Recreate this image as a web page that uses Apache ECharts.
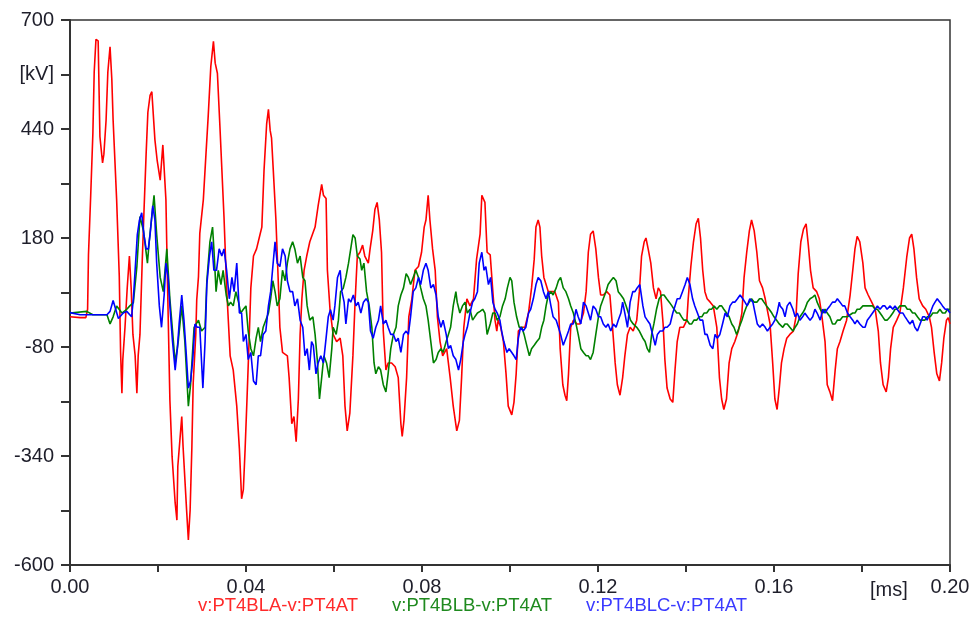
<!DOCTYPE html>
<html>
<head>
<meta charset="utf-8">
<script src="https://cdn.jsdelivr.net/npm/echarts@6.0.0/dist/echarts.min.js"></script>
<style>
html,body{margin:0;padding:0;background:#fff;}
#chart{width:974px;height:628px;}
</style>
</head>
<body>
<div id="chart"></div>
<script>
// Time in ms, voltage in kV
const seriesNames = ['v:PT4BLA-v:PT4AT', 'v:PT4BLB-v:PT4AT', 'v:PT4BLC-v:PT4AT'];
const seriesColors = ['#ff0000', '#008000', '#0000ff'];
const legendColors = ['#ff2a2a', '#1f8a1f', '#3a3aff'];

const phaseA = [[0,-8],[0.0023,-10],[0.0036,-10],[0.0040,10],[0.0042,140],[0.0047,280],[0.0052,430],[0.0055,576],[0.0059,654],[0.0064,650],[0.0068,422],[0.0074,359],[0.0077,380],[0.0082,461],[0.0086,576],[0.0091,636],[0.0095,560],[0.0098,461],[0.0106,271],[0.0112,88],[0.0115,-93],[0.0118,-190],[0.0120,-110],[0.0125,-33],[0.0130,60],[0.0135,137],[0.0139,61],[0.0143,-50],[0.0148,-100],[0.0152,-190],[0.0155,-100],[0.0159,-50],[0.0164,120],[0.0168,240],[0.0173,380],[0.0177,480],[0.0182,520],[0.0186,529],[0.0193,414],[0.0198,366],[0.0205,318],[0.0211,402],[0.0218,271],[0.0221,103],[0.0227,-206],[0.0232,-341],[0.0239,-452],[0.0243,-493],[0.0245,-365],[0.0254,-246],[0.0257,-318],[0.0265,-469],[0.0269,-540],[0.0273,-469],[0.0277,-318],[0.0280,-166],[0.0286,-47],[0.0288,32],[0.0292,88],[0.0295,191],[0.0303,271],[0.0309,380],[0.0314,469],[0.0320,589],[0.0326,649],[0.0330,597],[0.0335,573],[0.0341,440],[0.0350,230],[0.0356,60],[0.0364,-101],[0.0371,-135],[0.0379,-221],[0.0385,-323],[0.0390,-442],[0.0394,-420],[0.0398,-323],[0.0402,-212],[0.0407,-67],[0.0411,61],[0.0417,137],[0.0424,154],[0.0432,189],[0.0436,206],[0.0441,342],[0.0447,453],[0.0451,487],[0.0455,436],[0.0458,419],[0.0462,342],[0.0468,223],[0.0473,86],[0.0477,-33],[0.0483,-93],[0.0494,-101],[0.0498,-153],[0.0504,-263],[0.0509,-246],[0.0514,-306],[0.0519,-204],[0.0523,-50],[0.0527,35],[0.0532,103],[0.0538,137],[0.0545,171],[0.0557,206],[0.0564,257],[0.0572,308],[0.0576,282],[0.0582,274],[0.0585,103],[0.0591,9],[0.0598,-50],[0.0606,-67],[0.0614,-59],[0.0620,-101],[0.0625,-221],[0.0630,-280],[0.0636,-238],[0.0643,-100],[0.0648,30],[0.0653,137],[0.0659,146],[0.0665,163],[0.0670,137],[0.0678,120],[0.0682,154],[0.0688,197],[0.0693,248],[0.0698,265],[0.0703,223],[0.0708,146],[0.0712,-42],[0.0718,-135],[0.0723,-118],[0.0731,-118],[0.0739,-127],[0.0746,-153],[0.0752,-263],[0.0755,-293],[0.0759,-255],[0.0765,-153],[0.0770,-8],[0.0777,35],[0.0784,103],[0.0792,112],[0.0799,146],[0.0805,206],[0.0809,223],[0.0814,282],[0.0818,223],[0.0824,154],[0.0830,103],[0.0835,-8],[0.0841,-67],[0.0847,-101],[0.0856,-84],[0.0864,-153],[0.0871,-221],[0.0879,-280],[0.0885,-255],[0.0890,-153],[0.0895,-33],[0.0902,35],[0.0909,18],[0.0917,35],[0.0924,129],[0.0932,189],[0.0936,282],[0.0943,265],[0.0948,146],[0.0955,140],[0.0961,52],[0.0966,-16],[0.0970,-42],[0.0973,-16],[0.0979,-33],[0.0985,-67],[0.0991,-144],[0.0996,-221],[0.1004,-242],[0.1009,-212],[0.1014,-144],[0.1019,-42],[0.1027,-33],[0.1034,-33],[0.1042,1],[0.1049,61],[0.1055,129],[0.1059,206],[0.1064,223],[0.1068,206],[0.1072,137],[0.1077,86],[0.1082,69],[0.1087,52],[0.1095,52],[0.1102,52],[0.1110,27],[0.1114,-84],[0.1120,-170],[0.1125,-195],[0.1129,-208],[0.1133,-144],[0.1138,-33],[0.1144,-16],[0.1152,-25],[0.1159,-25],[0.1167,1],[0.1173,52],[0.1178,146],[0.1183,189],[0.1189,197],[0.1195,154],[0.1201,86],[0.1206,44],[0.1212,44],[0.1220,52],[0.1227,44],[0.1233,-33],[0.1239,-118],[0.1244,-170],[0.1250,-195],[0.1256,-153],[0.1261,-101],[0.1267,-50],[0.1273,-33],[0.1280,-42],[0.1288,-16],[0.1294,52],[0.1299,137],[0.1305,171],[0.1309,180],[0.1314,154],[0.1320,120],[0.1326,61],[0.1332,35],[0.1337,61],[0.1342,52],[0.1348,-25],[0.1352,-110],[0.1357,-178],[0.1364,-204],[0.1370,-212],[0.1375,-135],[0.1380,-67],[0.1386,-33],[0.1394,-33],[0.1402,-16],[0.1405,35],[0.1411,112],[0.1417,171],[0.1423,214],[0.1428,227],[0.1433,180],[0.1438,103],[0.1443,52],[0.1448,35],[0.1455,27],[0.1462,18],[0.1470,-33],[0.1476,-153],[0.1481,-204],[0.1486,-229],[0.1492,-204],[0.1498,-118],[0.1504,-84],[0.1511,-67],[0.1519,-42],[0.1527,1],[0.1532,86],[0.1538,146],[0.1544,197],[0.1549,223],[0.1555,197],[0.1561,146],[0.1567,78],[0.1574,61],[0.1580,35],[0.1583,18],[0.1591,-25],[0.1597,-118],[0.1602,-204],[0.1607,-229],[0.1612,-178],[0.1617,-118],[0.1623,-84],[0.1629,-59],[0.1636,-50],[0.1644,-42],[0.1650,-8],[0.1655,95],[0.1661,171],[0.1667,201],[0.1673,214],[0.1678,163],[0.1683,103],[0.1689,61],[0.1697,52],[0.1703,35],[0.1708,1],[0.1716,-67],[0.1721,-170],[0.1727,-187],[0.1733,-208],[0.1739,-135],[0.1744,-84],[0.1750,-67],[0.1757,-42],[0.1765,-16],[0.1773,44],[0.1779,103],[0.1784,154],[0.1789,184],[0.1795,171],[0.1802,120],[0.1807,61],[0.1814,44],[0.1822,27],[0.1830,10],[0.1837,-42],[0.1842,-118],[0.1848,-170],[0.1855,-187],[0.1860,-153],[0.1865,-84],[0.1871,-33],[0.1879,-16],[0.1886,1],[0.1894,61],[0.1902,137],[0.1908,180],[0.1913,189],[0.1918,154],[0.1924,86],[0.1930,35],[0.1938,18],[0.1945,10],[0.1953,-8],[0.1958,-33],[0.1964,-93],[0.1970,-144],[0.1976,-161],[0.1981,-118],[0.1986,-59],[0.1992,-16],[0.1996,-10],[0.2000,-25]];

const phaseB = [[0,1],[0.0038,5],[0.0052,-3],[0.0084,-3],[0.0091,-25],[0.0098,-8],[0.0106,18],[0.0118,1],[0.0129,10],[0.0136,18],[0.0144,26],[0.0152,112],[0.0159,231],[0.0167,197],[0.0176,120],[0.0180,171],[0.0191,282],[0.0197,188],[0.0205,86],[0.0212,52],[0.0220,154],[0.0227,35],[0.0239,-118],[0.0246,-67],[0.0254,18],[0.0261,-67],[0.0269,-221],[0.0274,-170],[0.0282,-33],[0.0292,-16],[0.0299,-42],[0.0307,-33],[0.0311,78],[0.0318,171],[0.0324,206],[0.0327,154],[0.0332,52],[0.0337,103],[0.0343,69],[0.0348,103],[0.0355,44],[0.0360,18],[0.0365,27],[0.0371,18],[0.0377,52],[0.0383,27],[0.0388,1],[0.0394,10],[0.0400,18],[0.0405,-42],[0.0411,-84],[0.0417,-101],[0.0423,-59],[0.0428,-33],[0.0433,-67],[0.0439,-33],[0.0445,-16],[0.0451,1],[0.0456,35],[0.0461,78],[0.0466,52],[0.0471,18],[0.0477,35],[0.0483,103],[0.0489,78],[0.0494,120],[0.0500,154],[0.0506,171],[0.0511,154],[0.0517,120],[0.0523,137],[0.0529,86],[0.0534,78],[0.0539,18],[0.0545,-16],[0.0552,-8],[0.0557,-50],[0.0562,-110],[0.0567,-204],[0.0572,-153],[0.0577,-101],[0.0583,-118],[0.0589,-153],[0.0595,-84],[0.0598,-33],[0.0605,-50],[0.0610,-16],[0.0615,52],[0.0621,60],[0.0627,86],[0.0633,120],[0.0638,154],[0.0643,188],[0.0648,180],[0.0653,137],[0.0659,130],[0.0663,103],[0.0668,120],[0.0674,52],[0.0680,18],[0.0686,-33],[0.0691,-118],[0.0695,-144],[0.0701,-127],[0.0706,-135],[0.0712,-170],[0.0718,-187],[0.0723,-144],[0.0729,-84],[0.0735,-50],[0.0741,-33],[0.0746,18],[0.0752,44],[0.0758,61],[0.0764,95],[0.0769,86],[0.0774,69],[0.0780,86],[0.0786,103],[0.0792,86],[0.0797,61],[0.0803,35],[0.0809,18],[0.0814,-16],[0.0820,-67],[0.0826,-118],[0.0832,-110],[0.0837,-93],[0.0843,-84],[0.0848,-93],[0.0855,-67],[0.0860,-50],[0.0865,-33],[0.0871,18],[0.0877,52],[0.0880,27],[0.0886,1],[0.0892,18],[0.0898,27],[0.0903,1],[0.0909,10],[0.0915,-16],[0.0920,-8],[0.0926,1],[0.0932,5],[0.0938,10],[0.0943,1],[0.0948,-50],[0.0955,-25],[0.0961,1],[0.0966,1],[0.0971,-16],[0.0977,-8],[0.0983,18],[0.0989,35],[0.0994,61],[0.1000,86],[0.1004,78],[0.1009,27],[0.1015,-8],[0.1021,-33],[0.1027,-33],[0.1032,-50],[0.1038,-76],[0.1044,-101],[0.1049,-84],[0.1055,-76],[0.1061,-67],[0.1067,-59],[0.1072,-33],[0.1077,-16],[0.1082,18],[0.1087,44],[0.1093,52],[0.1098,44],[0.1105,61],[0.1110,78],[0.1115,86],[0.1121,61],[0.1127,52],[0.1133,35],[0.1138,18],[0.1144,1],[0.1150,-25],[0.1155,-50],[0.1161,-84],[0.1167,-93],[0.1173,-101],[0.1178,-101],[0.1183,-110],[0.1189,-93],[0.1195,-50],[0.1201,-8],[0.1206,18],[0.1212,35],[0.1218,52],[0.1223,69],[0.1229,78],[0.1235,86],[0.1241,78],[0.1246,52],[0.1252,44],[0.1258,35],[0.1264,18],[0.1269,1],[0.1274,-16],[0.1280,-25],[0.1288,-33],[0.1294,-42],[0.1302,-59],[0.1307,-67],[0.1312,-84],[0.1317,-93],[0.1322,-50],[0.1327,-25],[0.1333,10],[0.1339,35],[0.1345,44],[0.1350,44],[0.1356,35],[0.1362,27],[0.1368,18],[0.1373,10],[0.1379,1],[0.1385,1],[0.1390,-8],[0.1395,-16],[0.1402,-16],[0.1408,-25],[0.1413,-25],[0.1418,-16],[0.1424,-16],[0.1430,-8],[0.1436,-8],[0.1441,1],[0.1447,1],[0.1453,10],[0.1458,10],[0.1464,18],[0.1470,10],[0.1476,18],[0.1481,18],[0.1486,10],[0.1492,1],[0.1498,-8],[0.1504,-25],[0.1509,-33],[0.1515,-50],[0.1521,-33],[0.1527,-16],[0.1532,1],[0.1538,18],[0.1544,27],[0.1549,35],[0.1555,27],[0.1561,27],[0.1567,35],[0.1572,35],[0.1577,27],[0.1583,18],[0.1589,10],[0.1595,1],[0.1600,-8],[0.1606,-16],[0.1612,-25],[0.1620,-33],[0.1625,-25],[0.1630,-25],[0.1636,-33],[0.1643,-42],[0.1648,-33],[0.1653,-25],[0.1659,-8],[0.1665,1],[0.1670,10],[0.1676,27],[0.1682,35],[0.1688,39],[0.1693,44],[0.1698,27],[0.1705,10],[0.1711,1],[0.1716,10],[0.1721,1],[0.1727,-8],[0.1733,-25],[0.1739,-25],[0.1744,-16],[0.1750,-16],[0.1756,-8],[0.1761,-8],[0.1767,-8],[0.1773,-3],[0.1779,1],[0.1784,1],[0.1789,10],[0.1795,10],[0.1802,18],[0.1807,18],[0.1812,18],[0.1818,18],[0.1824,18],[0.1830,10],[0.1835,10],[0.1841,1],[0.1847,-8],[0.1852,-16],[0.1857,-16],[0.1864,-8],[0.1870,1],[0.1875,10],[0.1880,10],[0.1886,18],[0.1893,18],[0.1898,18],[0.1903,10],[0.1909,10],[0.1915,1],[0.1920,1],[0.1926,-8],[0.1932,-16],[0.1938,-16],[0.1943,-16],[0.1948,-8],[0.1955,-8],[0.1961,1],[0.1966,1],[0.1971,1],[0.1977,10],[0.1983,1],[0.1989,1],[0.1994,10],[0.2000,10]];

const phaseC = [[0,2],[0.0023,-3],[0.0068,-3],[0.0084,-3],[0.0091,5],[0.0098,31],[0.0110,-12],[0.0121,1],[0.0129,5],[0.0140,-8],[0.0144,35],[0.0148,103],[0.0153,188],[0.0158,223],[0.0163,240],[0.0168,188],[0.0173,154],[0.0178,154],[0.0182,188],[0.0188,257],[0.0193,223],[0.0197,120],[0.0203,18],[0.0208,-33],[0.0214,44],[0.0218,120],[0.0223,86],[0.0227,18],[0.0233,-67],[0.0239,-135],[0.0244,-84],[0.0248,-25],[0.0254,44],[0.0259,-16],[0.0264,-93],[0.0269,-178],[0.0274,-161],[0.0279,-110],[0.0284,-25],[0.0289,-33],[0.0295,-33],[0.0302,-178],[0.0307,-67],[0.0311,69],[0.0317,137],[0.0322,171],[0.0327,103],[0.0333,103],[0.0339,154],[0.0345,137],[0.0350,154],[0.0356,103],[0.0362,35],[0.0368,86],[0.0373,52],[0.0379,120],[0.0385,1],[0.0390,1],[0.0394,-67],[0.0400,-50],[0.0405,-110],[0.0411,-93],[0.0417,-161],[0.0423,-170],[0.0428,-101],[0.0433,-101],[0.0439,-50],[0.0445,-42],[0.0451,18],[0.0456,52],[0.0461,112],[0.0466,171],[0.0471,120],[0.0477,112],[0.0483,154],[0.0489,137],[0.0494,78],[0.0500,52],[0.0506,52],[0.0511,18],[0.0517,35],[0.0523,-16],[0.0529,-33],[0.0534,-101],[0.0539,-84],[0.0544,-135],[0.0549,-67],[0.0553,-76],[0.0559,-144],[0.0564,-118],[0.0570,-101],[0.0576,-118],[0.0582,-59],[0.0587,-8],[0.0592,9],[0.0598,-16],[0.0602,18],[0.0608,86],[0.0614,103],[0.0618,52],[0.0623,27],[0.0627,-25],[0.0633,35],[0.0638,27],[0.0644,44],[0.0650,18],[0.0655,27],[0.0661,1],[0.0667,27],[0.0673,35],[0.0678,27],[0.0683,-42],[0.0689,-59],[0.0695,-33],[0.0701,-16],[0.0706,18],[0.0712,-25],[0.0718,-16],[0.0723,-33],[0.0729,-50],[0.0735,-50],[0.0741,-67],[0.0746,-59],[0.0752,-93],[0.0758,-50],[0.0764,-42],[0.0769,-50],[0.0774,-8],[0.0780,52],[0.0786,61],[0.0792,86],[0.0797,69],[0.0803,103],[0.0809,120],[0.0814,103],[0.0820,61],[0.0826,69],[0.0832,44],[0.0837,-8],[0.0843,-33],[0.0848,-16],[0.0855,-50],[0.0860,-84],[0.0865,-76],[0.0871,-101],[0.0877,-110],[0.0883,-135],[0.0888,-110],[0.0894,-67],[0.0898,-50],[0.0903,-33],[0.0909,1],[0.0915,27],[0.0920,35],[0.0926,52],[0.0930,120],[0.0936,146],[0.0941,103],[0.0945,112],[0.0951,69],[0.0956,86],[0.0961,27],[0.0966,10],[0.0971,1],[0.0977,-16],[0.0981,-42],[0.0986,-67],[0.0993,-93],[0.0998,-84],[0.1004,-93],[0.1009,-101],[0.1014,-110],[0.1019,-59],[0.1024,-33],[0.1030,-42],[0.1036,-33],[0.1042,1],[0.1047,10],[0.1053,35],[0.1059,69],[0.1064,86],[0.1070,78],[0.1076,52],[0.1082,35],[0.1087,52],[0.1093,18],[0.1098,-8],[0.1105,-16],[0.1110,-33],[0.1115,-50],[0.1121,-76],[0.1127,-59],[0.1133,-42],[0.1138,-25],[0.1144,-25],[0.1150,10],[0.1155,-8],[0.1161,-25],[0.1167,27],[0.1173,18],[0.1178,1],[0.1183,-16],[0.1189,18],[0.1195,10],[0.1201,-8],[0.1206,-8],[0.1212,-25],[0.1218,-33],[0.1223,-25],[0.1229,-42],[0.1235,-25],[0.1241,-33],[0.1246,-16],[0.1252,1],[0.1256,27],[0.1261,1],[0.1267,-33],[0.1273,27],[0.1279,52],[0.1284,52],[0.1289,61],[0.1295,69],[0.1302,18],[0.1307,-8],[0.1312,-16],[0.1318,-25],[0.1324,-50],[0.1330,-76],[0.1335,-50],[0.1341,-42],[0.1347,-42],[0.1352,-33],[0.1357,-33],[0.1364,-25],[0.1370,1],[0.1375,18],[0.1380,35],[0.1386,35],[0.1392,52],[0.1398,69],[0.1403,86],[0.1409,69],[0.1415,35],[0.1420,18],[0.1426,1],[0.1432,-16],[0.1438,-16],[0.1443,-50],[0.1448,-50],[0.1455,-76],[0.1461,-84],[0.1466,-50],[0.1471,-59],[0.1477,-50],[0.1483,-25],[0.1489,1],[0.1494,-8],[0.1500,18],[0.1506,27],[0.1511,27],[0.1517,35],[0.1523,44],[0.1529,35],[0.1534,27],[0.1539,18],[0.1545,35],[0.1552,27],[0.1557,1],[0.1562,-25],[0.1568,-33],[0.1574,-25],[0.1580,-33],[0.1585,-42],[0.1591,-33],[0.1597,-25],[0.1602,-16],[0.1607,1],[0.1612,27],[0.1614,18],[0.1620,10],[0.1625,-8],[0.1630,18],[0.1636,27],[0.1643,10],[0.1648,-8],[0.1653,1],[0.1659,-16],[0.1665,-8],[0.1670,1],[0.1676,-8],[0.1682,-16],[0.1688,-8],[0.1693,10],[0.1698,1],[0.1705,-16],[0.1711,10],[0.1716,1],[0.1721,10],[0.1727,18],[0.1733,27],[0.1739,27],[0.1744,35],[0.1750,27],[0.1756,18],[0.1761,18],[0.1767,1],[0.1773,-8],[0.1779,-16],[0.1784,-25],[0.1789,-16],[0.1795,-25],[0.1802,-33],[0.1807,-33],[0.1812,-16],[0.1818,-8],[0.1824,1],[0.1830,10],[0.1835,18],[0.1841,10],[0.1847,18],[0.1852,18],[0.1857,10],[0.1864,18],[0.1870,10],[0.1875,18],[0.1880,10],[0.1886,1],[0.1893,1],[0.1898,-8],[0.1903,-16],[0.1909,-25],[0.1915,-16],[0.1920,-33],[0.1926,-42],[0.1932,-25],[0.1938,-8],[0.1943,-8],[0.1948,-16],[0.1955,1],[0.1961,18],[0.1966,27],[0.1971,35],[0.1977,27],[0.1983,18],[0.1989,10],[0.1994,10],[0.2000,1]];

const xTickLabels = ['0.00', '0.04', '0.08', '0.12', '0.16', '0.20'];
const yTickLabels = ['-600', '-340', '-80', '180', '440', '700'];
const xUnit = '[ms]';
const yUnit = '[kV]';

const chart = echarts.init(document.getElementById('chart'), null, {renderer: 'canvas'});
const FONT = "'Liberation Sans', Arial, sans-serif";
const labelColor = '#1e1e2a';
const axisColor = '#333333';

const seriesData = [phaseA, phaseB, phaseC];

const option = {
  backgroundColor: '#ffffff',
  animation: false,
  textStyle: { fontFamily: FONT },
  grid: {
    left: 70, right: 24, top: 20, bottom: 63,
    show: true, borderColor: axisColor, borderWidth: 1.5, backgroundColor: 'transparent'
  },
  legend: {
    left: 193, top: 596, padding: 0,
    itemGap: 29, itemWidth: 0, itemHeight: 20, icon: 'none',
    selectedMode: false,
    textStyle: { fontFamily: FONT, fontSize: 18.5 },
    data: seriesNames.map((n, i) => ({ name: n, icon: 'none', textStyle: { color: legendColors[i] } }))
  },
  xAxis: {
    type: 'value', min: 0, max: 0.2, interval: 0.02,
    axisLine: { show: true, onZero: false, lineStyle: { color: axisColor, width: 2 } },
    axisTick: { show: true, inside: false, length: 7, lineStyle: { color: axisColor, width: 2 } },
    splitLine: { show: false },
    axisLabel: {
      margin: 12, fontSize: 20, color: labelColor, fontFamily: FONT,
      showMinLabel: true, showMaxLabel: true,
      formatter: function (v) {
        const k = Math.round(v / 0.04 * 1000) / 1000;
        if (Math.abs(k - Math.round(k)) < 1e-6) return xTickLabels[Math.round(k)] || '';
        return '';
      }
    }
  },
  yAxis: {
    type: 'value', min: -600, max: 700, interval: 130,
    axisLine: { show: true, onZero: false, lineStyle: { color: axisColor, width: 2 } },
    axisTick: { show: true, inside: false, length: 9, lineStyle: { color: axisColor, width: 2 } },
    splitLine: { show: false },
    axisLabel: {
      margin: 16, fontSize: 20, color: labelColor, fontFamily: FONT,
      showMinLabel: true, showMaxLabel: true,
      formatter: function (v) {
        const k = Math.round((v + 600) / 130);
        if (k === 9) return yUnit;
        if (k % 2 === 0) return yTickLabels[k / 2] || '';
        return '';
      }
    }
  },
  graphic: [{
    type: 'text', left: 870, top: 580,
    style: { text: xUnit, fontSize: 20, fontFamily: FONT, fill: labelColor }
  }],
  series: seriesData.map((d, i) => ({
    name: seriesNames[i], type: 'line', data: d,
    showSymbol: false, symbol: 'none', smooth: false,
    lineStyle: { color: seriesColors[i], width: 1.6 },
    itemStyle: { color: seriesColors[i] },
    z: 2 + i
  }))
};
chart.setOption(option);
</script>
</body>
</html>
